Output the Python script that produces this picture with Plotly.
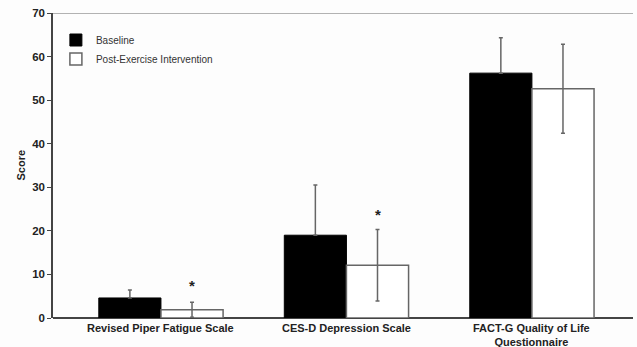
import plotly.graph_objects as go

categories = ["Revised Piper Fatigue Scale", "CES-D Depression Scale",
              "FACT-G Quality of Life<br>Questionnaire"]
baseline = [4.6, 19.0, 56.2]
baseline_err = [1.8, 11.5, 8.1]
post = [1.9, 12.1, 52.6]
post_err = [1.7, 8.2, 10.2]
star_y = [7.5, 23.7]   # asterisk positions (significant differences)
y_ticks = [0, 10, 20, 30, 40, 50, 60, 70]

FONT = "Liberation Sans, Arial, sans-serif"
bargap = 0.33
xs = list(range(len(categories)))
ERR = "#666666"

fig = go.Figure()
fig.add_trace(go.Bar(
    x=xs, y=baseline, name="Baseline",
    marker=dict(color="black", line=dict(color="black", width=1)),
    error_y=dict(type="data", array=baseline_err, arrayminus=[0]*3, symmetric=False,
                 color=ERR, thickness=1.5, width=2),
))
fig.add_trace(go.Bar(
    x=xs, y=post, name="Post-Exercise Intervention",
    marker=dict(color="white", line=dict(color=ERR, width=1.5)),
    error_y=dict(type="data", array=post_err, color=ERR, thickness=1.5, width=2),
))

off = (1 - bargap) / 4
for i, sy in enumerate(star_y):
    fig.add_annotation(x=xs[i] + off, y=sy, text="<b>*</b>", showarrow=False,
                       font=dict(family=FONT, size=15, color="#222222"),
                       xref="x", yref="y", yanchor="middle")

# category labels (placed as annotations for tight control)
for i, c in enumerate(categories):
    fig.add_annotation(x=xs[i], y=0, xref="x", yref="paper", yanchor="top",
                       yshift=-2, text=f"<b>{c}</b>", showarrow=False,
                       font=dict(family=FONT, size=11, color="#222222"))

fig.add_annotation(x=0, y=0.5, xref="paper", yref="paper", xshift=-41,
                   text="<b>Score</b>", textangle=-90, showarrow=False,
                   font=dict(family=FONT, size=11, color="#222222"))

# top border line
fig.add_shape(type="line", xref="paper", yref="y", x0=0, x1=1, y0=70, y1=70,
              line=dict(color="#999999", width=1.5))

fig.update_layout(
    width=637, height=347,
    margin=dict(l=53, r=4, t=13, b=29),
    paper_bgcolor="#fdfdfd", plot_bgcolor="#fdfdfd",
    barmode="group", bargap=bargap, bargroupgap=0,
    showlegend=True,
    legend=dict(x=0.005, y=0.959, xanchor="left", yanchor="top",
                font=dict(family=FONT, size=10, color="#333333"),
                bgcolor="rgba(0,0,0,0)", tracegroupgap=0),
    font=dict(family=FONT, color="#222222"),
)
fig.update_xaxes(
    tickmode="array", tickvals=xs, ticktext=["" for _ in categories],
    range=[-0.582, 2.545], showline=False, ticks="", showgrid=False, zeroline=False,
    automargin=False,
)
fig.update_yaxes(
    range=[0, 70], tickvals=y_ticks, ticktext=[f"<b>{t}</b>" for t in y_ticks],
    showline=True, linecolor="#444444", linewidth=1.5, ticks="outside", ticklen=4,
    tickcolor="#444444", showgrid=False, zeroline=True, zerolinecolor="#444444",
    zerolinewidth=1.5, tickfont=dict(family=FONT, size=11.5, color="#222222"),
    automargin=False,
)
fig.write_html("out.html", config={"displayModeBar": False},
               post_script=("document.body.style.margin='0';"
                            "document.body.style.overflow='hidden';"
                            "document.documentElement.style.overflow='hidden';"
                            "document.body.style.background='#fdfdfd';"))
